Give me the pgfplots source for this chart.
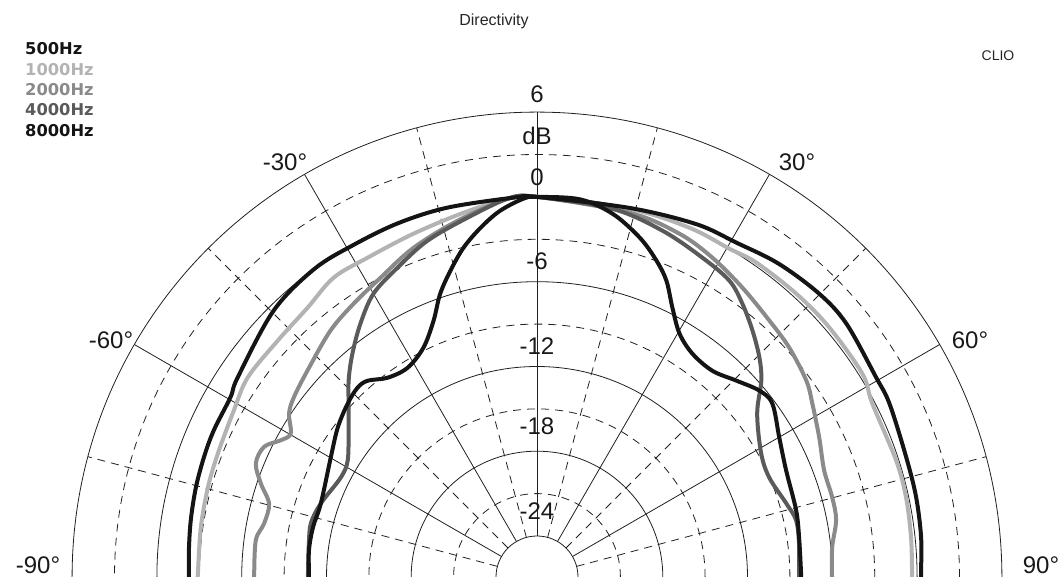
\documentclass[border=0pt]{standalone}
\usepackage{pgfplots}
\pgfplotsset{compat=1.18}
\usepackage{pgfplotstable}
\usepackage{fontspec}
\setmainfont{Liberation Sans}
\newfontfamily\legfont{DejaVu Sans}
\definecolor{cBlack}{HTML}{141414}
\definecolor{cLight}{HTML}{B3B3B3}
\definecolor{cMid}{HTML}{8A8A8A}
\definecolor{cDark}{HTML}{5A5A5A}
\definecolor{cGrid}{HTML}{202020}
\tikzset{
  gs/.style={draw=cGrid, line width=0.8pt},
  gd/.style={draw=cGrid, line width=0.8pt, dash pattern=on 8pt off 6pt},
  lab/.style={font=\fontsize{24}{28}\selectfont, text=black!90, inner sep=0pt, anchor=base},
  leg/.style={inner sep=0pt, anchor=base west, font=\legfont\fontsize{16.3}{18}\selectfont\bfseries, xshift=-512pt},
}

% angle (deg, 0 = on axis) and level (dB)
\pgfplotstableread[row sep=\\]{
a db \\
-90 -2.26 \\ -89.3 -2.26 \\ -85.6 -2.19 \\ -80.7 -2.07 \\ -75.3 -1.94 \\ -70.2 -1.85 \\
-65.6 -1.78 \\ -59.6 -1.75 \\ -56.3 -1.44 \\ -44.7 -0.39 \\ -35.9 0 \\ -29.0 -0.05 \\
-21.5 0 \\ -13.7 0 \\ -3.6 0 \\ 0 0 \\ 14.1 0.03 \\ 24.3 0.5 \\ 30.8 0.65 \\ 37.6 1.1 \\
44.9 1.4 \\ 50.7 1.4 \\ 59.5 0.95 \\ 63.8 0.9 \\ 72.0 0.57 \\ 78.1 0.52 \\ 84.1 0.43 \\
89.4 0.28 \\ 90 0.28 \\
}\tFiveH

\pgfplotstableread[row sep=\\]{
a db \\
-90 -2.9 \\ -89.3 -2.9 \\ -81.6 -2.85 \\ -74.7 -2.76 \\ -68.8 -2.68 \\ -61.2 -2.42 \\
-55.4 -2.03 \\ -47.7 -2.07 \\ -40.4 -1.86 \\ -34.2 -1.29 \\ -28.0 -1.32 \\ -19.8 -1.08 \\
-11.5 -0.61 \\ -4.5 -0.06 \\ 0 0 \\ 14.1 -0.03 \\ 23.6 0.07 \\ 30.4 0.03 \\ 34.9 0.23 \\
42.5 0.28 \\ 49.5 0.3 \\ 58.0 0.25 \\ 62.6 -0.18 \\ 72.0 -0.18 \\ 77.8 -0.18 \\
83.9 -0.28 \\ 89.4 -0.35 \\ 90 -0.35 \\
}\tOneK

\pgfplotstableread[row sep=\\]{
a db \\
-90 -6.88 \\ -89.3 -6.88 \\ -82.5 -6.83 \\ -78.9 -7.22 \\ -74.7 -7.24 \\ -71.3 -6.27 \\
-68.0 -5.44 \\ -64.5 -5.5 \\ -61.9 -6.35 \\ -59.8 -6.73 \\ -56.6 -5.88 \\ -53.5 -5.5 \\
-48.0 -5.05 \\ -40.0 -4.15 \\ -33.9 -3.61 \\ -27.6 -3.0 \\ -20.6 -2.02 \\ -12.6 -1.07 \\
-4.5 -0.06 \\ 0 0 \\ 14.3 -0.3 \\ 22.6 -0.6 \\ 28.8 -1.12 \\ 35.4 -1.79 \\ 42.2 -2.41 \\
47.7 -2.77 \\ 53.9 -3.31 \\ 57.8 -3.87 \\ 63.7 -4.62 \\ 69.6 -5.22 \\ 74.9 -5.26 \\
79.2 -5.35 \\ 84.2 -5.9 \\ 89.2 -6.02 \\ 90 -6.02 \\
}\tTwoK

\pgfplotstableread[row sep=\\]{
a db \\
-90 -10.69 \\ -89 -10.69 \\ -81.6 -10.58 \\ -76.6 -10.45 \\ -71.2 -10.74 \\ -63.1 -11.33 \\
-58.4 -11.17 \\ -52.1 -10.0 \\ -48.5 -9.11 \\ -43.8 -7.64 \\ -39.6 -6.4 \\ -34.9 -5.05 \\
-30.0 -3.75 \\ -24.3 -2.89 \\ -18.1 -1.88 \\ -11.0 -1.01 \\ -4.1 0 \\ 0 0 \\ 11.6 -0.3 \\
20.0 -0.84 \\ 27.4 -1.45 \\ 33.0 -1.9 \\ 36.9 -2.7 \\ 41.2 -3.74 \\ 45.4 -4.79 \\
48.8 -5.8 \\ 53.4 -7.49 \\ 61.1 -8.78 \\ 66.8 -9.02 \\ 73.5 -8.51 \\ 77.6 -8.13 \\
82.6 -8.2 \\ 89.1 -8.35 \\ 90 -8.35 \\
}\tFourK

\pgfplotstableread[row sep=\\]{
a db \\
-90 -10.76 \\ -89 -10.76 \\ -83.3 -10.65 \\ -77.5 -10.66 \\ -71.2 -10.74 \\ -59.9 -10.03 \\
-53.1 -9.27 \\ -47.5 -8.73 \\ -43.5 -8.44 \\ -40.8 -8.55 \\ -36.9 -9.27 \\ -31.8 -9.49 \\
-26.4 -8.8 \\ -22.0 -7.35 \\ -18.9 -5.73 \\ -15.8 -4.38 \\ -12.6 -3.03 \\ -9.2 -1.87 \\
-5.8 -0.86 \\ -2 -0.1 \\ 0 0 \\ 6.5 0 \\ 11.8 -0.65 \\ 16.9 -1.82 \\ 20.7 -2.97 \\
23.6 -4.02 \\ 26.7 -5.57 \\ 30.4 -6.95 \\ 34.9 -7.65 \\ 40.4 -7.74 \\ 45.4 -7.1 \\
50.0 -6.37 \\ 53.6 -6.21 \\ 60.1 -7.12 \\ 66.8 -7.72 \\ 75.5 -7.96 \\ 81.4 -8.14 \\
89.1 -8.21 \\ 90 -8.21 \\
}\tEightK

\begin{document}
\begin{tikzpicture}
\begin{axis}[
  name=ax,
  x=14.13pt, y=14.13pt,
  xmin=-38.004, xmax=37.297, ymin=0, ymax=40.835,
  hide axis, clip=false,
  curve/.style={line width=4pt, smooth, tension=0.55, no markers, line join=round},
]
% rings
\draw[gs] (axis cs:0,0) ++(0:464.9pt) arc[start angle=0,end angle=180,radius=464.9pt];
\draw[gd] (axis cs:0,0) ++(0:422.5pt) arc[start angle=0,end angle=180,radius=422.5pt];
\draw[gs] (axis cs:0,0) ++(0:380.1pt) arc[start angle=0,end angle=180,radius=380.1pt];
\draw[gd] (axis cs:0,0) ++(0:337.7pt) arc[start angle=0,end angle=180,radius=337.7pt];
\draw[gs] (axis cs:0,0) ++(0:295.3pt) arc[start angle=0,end angle=180,radius=295.3pt];
\draw[gd] (axis cs:0,0) ++(0:252.9pt) arc[start angle=0,end angle=180,radius=252.9pt];
\draw[gs] (axis cs:0,0) ++(0:210.5pt) arc[start angle=0,end angle=180,radius=210.5pt];
\draw[gd] (axis cs:0,0) ++(0:168.1pt) arc[start angle=0,end angle=180,radius=168.1pt];
\draw[gs] (axis cs:0,0) ++(0:125.8pt) arc[start angle=0,end angle=180,radius=125.8pt];
\draw[gd] (axis cs:0,0) ++(0:83.4pt) arc[start angle=0,end angle=180,radius=83.4pt];
\draw[gs] (axis cs:0,0) ++(0:41pt) arc[start angle=0,end angle=180,radius=41pt];
% spokes
\draw[gs] (axis cs:0,0) ++(180:41pt) -- ++(180:424pt);
\draw[gd] (axis cs:0,0) ++(165:41pt) -- ++(165:424pt);
\draw[gs] (axis cs:0,0) ++(150:41pt) -- ++(150:424pt);
\draw[gd] (axis cs:0,0) ++(135:41pt) -- ++(135:424pt);
\draw[gs] (axis cs:0,0) ++(120:41pt) -- ++(120:424pt);
\draw[gd] (axis cs:0,0) ++(105:41pt) -- ++(105:424pt);
\draw[gs] (axis cs:0,0) ++(90:41pt) -- ++(90:424pt);
\draw[gd] (axis cs:0,0) ++(75:41pt) -- ++(75:424pt);
\draw[gs] (axis cs:0,0) ++(60:41pt) -- ++(60:424pt);
\draw[gd] (axis cs:0,0) ++(45:41pt) -- ++(45:424pt);
\draw[gs] (axis cs:0,0) ++(30:41pt) -- ++(30:424pt);
\draw[gd] (axis cs:0,0) ++(15:41pt) -- ++(15:424pt);
\draw[gs] (axis cs:0,0) ++(0:41pt) -- ++(0:424pt);

% curves
\addplot[curve, draw=cLight] table[x expr={(\thisrow{db}+26.9)*sin(\thisrow{a})}, y expr={(\thisrow{db}+26.9)*cos(\thisrow{a})}] {\tOneK};
\addplot[curve, draw=cMid] table[x expr={(\thisrow{db}+26.9)*sin(\thisrow{a})}, y expr={(\thisrow{db}+26.9)*cos(\thisrow{a})}] {\tTwoK};
\addplot[curve, draw=cDark] table[x expr={(\thisrow{db}+26.9)*sin(\thisrow{a})}, y expr={(\thisrow{db}+26.9)*cos(\thisrow{a})}] {\tFourK};
\addplot[curve, draw=cBlack] table[x expr={(\thisrow{db}+26.9)*sin(\thisrow{a})}, y expr={(\thisrow{db}+26.9)*cos(\thisrow{a})}] {\tEightK};
\addplot[curve, draw=cBlack] table[x expr={(\thisrow{db}+26.9)*sin(\thisrow{a})}, y expr={(\thisrow{db}+26.9)*cos(\thisrow{a})}] {\tFiveH};

% radial labels
\node[lab, yshift=474pt] at (axis cs:0,0) {6};
\node[lab, yshift=432pt] at (axis cs:0,0) {dB};
\node[lab, yshift=391pt] at (axis cs:0,0) {0};
\node[lab, yshift=307pt] at (axis cs:0,0) {-6};
\node[lab, yshift=222pt] at (axis cs:0,0) {-12};
\node[lab, yshift=142pt] at (axis cs:0,0) {-18};
\node[lab, yshift=57pt] at (axis cs:0,0) {-24};
% angle labels
\node[lab, xshift=-252pt, yshift=406pt] at (axis cs:0,0) {-30°};
\node[lab, xshift=260pt, yshift=406pt] at (axis cs:0,0) {30°};
\node[lab, xshift=-426pt, yshift=228pt] at (axis cs:0,0) {-60°};
\node[lab, xshift=433pt, yshift=228pt] at (axis cs:0,0) {60°};
\node[lab, xshift=-499pt, yshift=3pt] at (axis cs:0,0) {-90°};
\node[lab, xshift=504pt, yshift=3pt] at (axis cs:0,0) {90°};
% title and tag
\node[inner sep=0pt, anchor=base, font=\fontsize{16}{18}\selectfont, text=black!85, xshift=-43pt, yshift=551pt] at (axis cs:0,0) {Directivity};
\node[inner sep=0pt, anchor=base, font=\fontsize{14}{16}\selectfont, text=black!85, xshift=461pt, yshift=516pt] at (axis cs:0,0) {CLIO};
% legend
\node[leg, text=cBlack, yshift=522pt] at (axis cs:0,0) {500Hz};
\node[leg, text=cLight, yshift=501.3pt] at (axis cs:0,0) {1000Hz};
\node[leg, text=cMid, yshift=481pt] at (axis cs:0,0) {2000Hz};
\node[leg, text=cDark, yshift=461pt] at (axis cs:0,0) {4000Hz};
\node[leg, text=cBlack, yshift=440pt] at (axis cs:0,0) {8000Hz};
\end{axis}
\pgfresetboundingbox
\useasboundingbox (ax.south west) rectangle (ax.north east);
\end{tikzpicture}
\end{document}
